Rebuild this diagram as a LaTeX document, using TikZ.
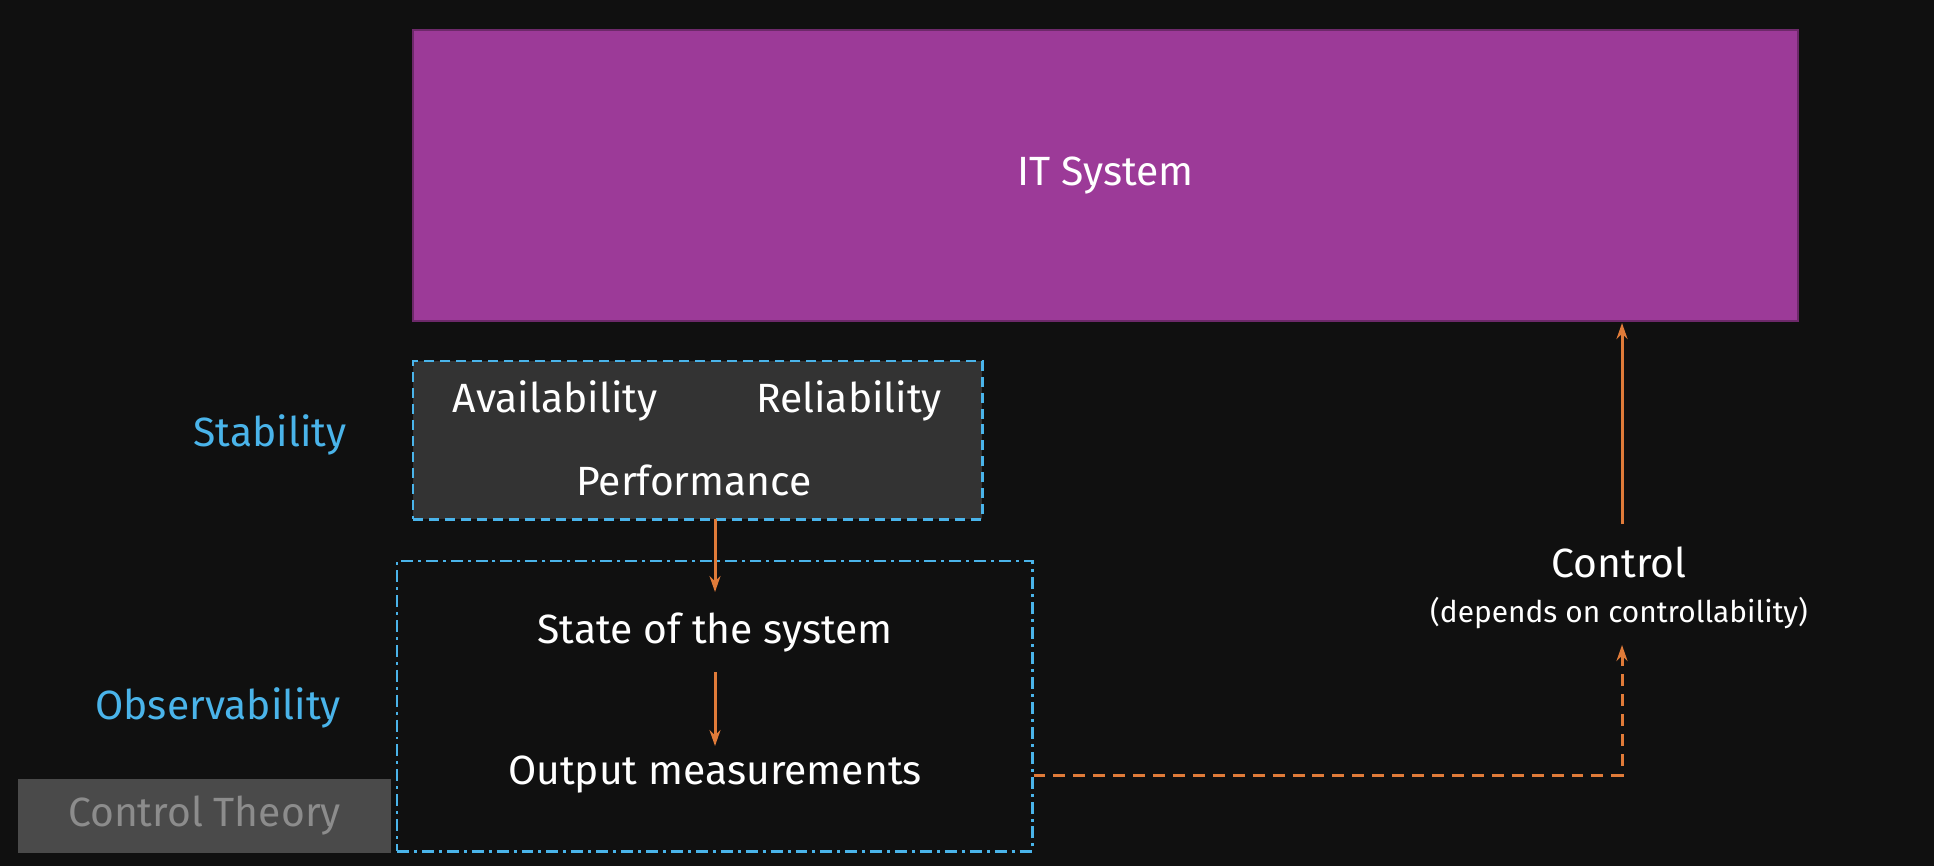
\documentclass[tikz,border=0pt]{standalone}
\usepackage{fontspec}
\setmainfont{Fira Sans}
\usetikzlibrary{arrows.meta}
\definecolor{bg}{HTML}{101010}
\definecolor{purp}{HTML}{9C3A98}
\definecolor{blu}{HTML}{4AB4EA}
\definecolor{ora}{HTML}{E07B39}
\definecolor{boxg}{HTML}{333333}
\definecolor{ctg}{HTML}{4A4A4A}
\definecolor{ctt}{HTML}{8C8C8C}
\tikzset{
 txt/.style={text=white,font=\fontsize{41}{46}\selectfont,inner sep=0pt},
 lbl/.style={text=blu,font=\fontsize{41}{46}\selectfont,inner sep=0pt},
 arr/.style={ora,line width=3pt,-{Stealth[length=16pt,width=11pt]}},
}
\begin{document}
\begin{tikzpicture}[x=1bp,y=-1bp]
\fill[bg] (0,0) rectangle (1934,866);
\useasboundingbox (0,0) rectangle (1934,866);
\node[draw=purp!70!black,fill=purp,line width=2pt,minimum width=1385bp,minimum height=291bp,inner sep=0pt] (it) at (1105.5,175.5) {};
\node[txt] at (it.center) {IT System};
\node[draw=blu,dash pattern=on 10pt off 6pt,fill=boxg,line width=3pt,minimum width=569bp,minimum height=158bp,inner sep=0pt] (stab) at (697.5,440) {};
\node[txt] (av) at (555,401) {Availability};
\node[txt] (rel) at (849,401) {Reliability};
\node[txt] (perf) at (694,480) {Performance};
\node[lbl] at (270,435) {Stability};
\node[draw=blu,dash pattern=on 12pt off 5pt on 3pt off 5pt,line width=3pt,minimum width=635bp,minimum height=290bp,inner sep=0pt] (obs) at (714.5,706) {};
\node[txt] (state) at (715,633) {State of the system};
\node[txt] (out) at (715,775) {Output measurements};
\node[lbl] at (218,708) {Observability};
\node[fill=ctg,minimum width=373bp,minimum height=74bp,inner sep=0pt] (ct) at (204.5,816) {};
\node[text=ctt,font=\fontsize{41}{46}\selectfont] at (ct.center) {Control Theory};
\node[txt] (ctrl) at (1619,562) {Control};
\node[txt,font=\fontsize{30}{34}\selectfont] (dep) at (1619,613) {(depends on controllability)};
\coordinate (c1) at (715,592);
\coordinate (c2) at (715,746);
\coordinate (c3) at (715,672);
\coordinate (d1) at (1622,775);
\coordinate (d2) at (1622,645);
\coordinate (u1) at (1622,524);
\coordinate (u2) at (1622,323);
\draw[arr] (715,519) -- (c1);
\draw[arr] (c3) -- (c2);
\draw[arr,dash pattern=on 12pt off 8pt] (obs.east |- out) -- (d1) -- (d2);
\draw[arr] (u1) -- (u2);
\end{tikzpicture}
\end{document}
